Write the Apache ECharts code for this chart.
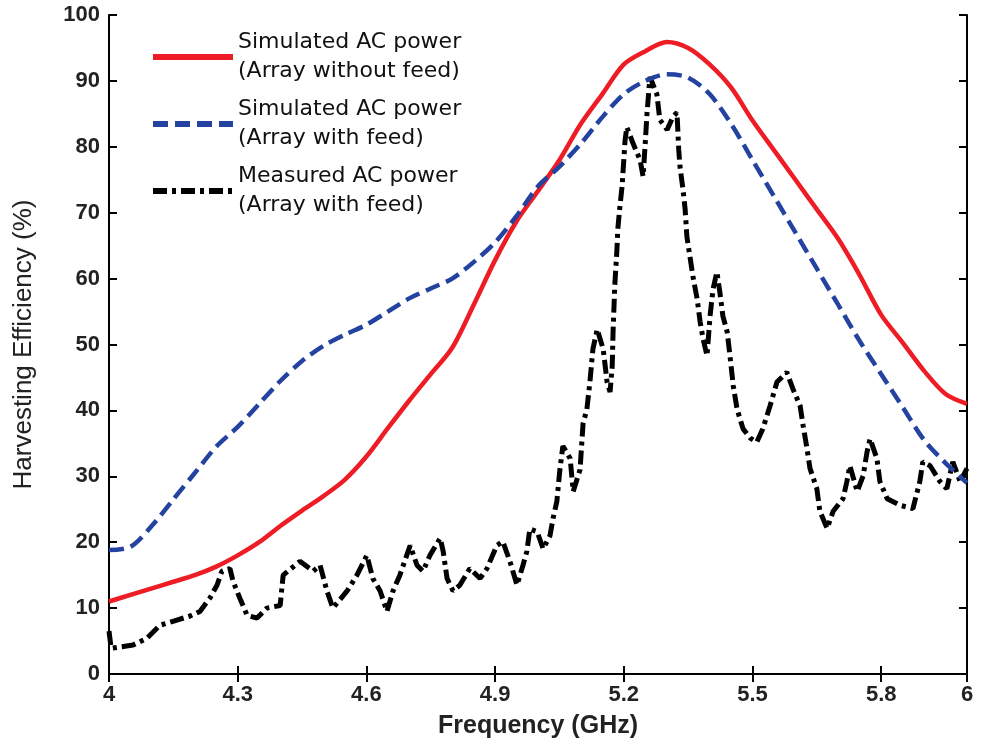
<!DOCTYPE html>
<html>
<head>
<meta charset="utf-8">
<script src="https://cdn.jsdelivr.net/npm/echarts@6/dist/echarts.min.js"></script>
<style>
html,body{margin:0;padding:0;background:#fff;}
#chart{width:984px;height:744px;}
</style>
</head>
<body>
<div id="chart"></div>
<script>
const simFreq = [4.00,4.05,4.10,4.15,4.20,4.25,4.30,4.35,4.40,4.45,4.50,4.55,4.60,4.65,4.70,4.75,4.80,4.85,4.90,4.95,
  5.00,5.05,5.10,5.15,5.20,5.25,5.30,5.35,5.40,5.45,5.50,5.55,5.60,5.65,5.70,5.75,5.80,5.85,5.90,5.95,6.00];
const simNoFeed = [11.0,12.0,13.0,14.0,15.0,16.3,18.0,20.0,22.5,24.8,27.0,29.5,33.0,37.3,41.5,45.5,49.5,56.0,62.8,68.7,
  73.3,78.0,83.5,88.0,92.5,94.5,95.9,95.0,92.5,89.0,84.0,79.5,75.0,70.5,66.0,60.5,54.5,50.3,46.0,42.5,41.0];
const simWithFeed = [18.8,19.3,22.5,26.5,30.5,34.5,37.5,41.0,44.5,47.5,49.8,51.5,53.0,55.0,57.0,58.5,60.0,62.5,65.5,69.5,
  74.0,77.0,80.5,84.5,88.0,90.0,91.0,90.5,88.0,83.5,78.0,72.5,67.0,61.5,56.0,50.5,45.5,40.5,35.5,32.0,29.0];
const measFreq = [4.000,4.005,4.056,4.088,4.119,4.149,4.189,4.212,4.235,4.252,4.263,4.282,4.289,4.305,4.322,4.345,4.368,4.399,4.406,4.445,
  4.476,4.492,4.508,4.522,4.555,4.578,4.601,4.615,4.632,4.648,4.662,4.678,4.702,4.718,4.732,4.748,4.772,4.779,4.788,4.802,
  4.818,4.841,4.865,4.881,4.904,4.918,4.935,4.951,4.965,4.974,4.981,4.998,5.012,5.028,5.035,5.044,5.051,5.058,5.075,5.082,
  5.098,5.105,5.114,5.121,5.128,5.138,5.152,5.161,5.168,5.173,5.175,5.179,5.184,5.186,5.191,5.196,5.200,5.203,5.207,5.221,
  5.238,5.245,5.250,5.254,5.261,5.277,5.284,5.301,5.315,5.324,5.328,5.331,5.338,5.343,5.347,5.354,5.361,5.371,5.378,5.385,
  5.394,5.401,5.408,5.417,5.424,5.431,5.441,5.448,5.455,5.464,5.478,5.495,5.510,5.524,5.541,5.557,5.580,5.594,5.611,5.618,
  5.627,5.634,5.650,5.657,5.674,5.688,5.711,5.720,5.727,5.744,5.758,5.767,5.774,5.790,5.797,5.814,5.844,5.874,5.890,5.897,
  5.914,5.937,5.953,5.967,5.984,6.000];
const measEff = [6.5,3.9,4.4,5.4,7.4,8.0,8.8,9.5,11.5,13.5,15.6,16.0,14.1,11.5,8.9,8.5,10.0,10.4,15.0,17.1,
  15.6,16.5,12.6,10.0,12.6,15.0,18.0,14.5,12.6,9.5,12.6,15.0,19.5,16.5,15.6,18.0,20.6,18.6,14.5,12.6,
  13.5,16.0,14.5,16.0,19.5,20.1,17.0,13.5,16.5,18.6,22.0,21.6,19.0,21.0,23.6,26.2,31.0,34.6,32.7,27.7,
  31.0,38.0,40.2,44.3,49.3,52.3,49.3,44.3,42.8,46.7,52.0,59.0,64.4,67.5,71.0,74.0,78.0,81.0,83.0,80.6,
  78.0,75.5,80.6,85.0,90.6,88.0,84.1,82.6,84.6,85.2,79.6,77.0,73.5,70.5,66.4,63.4,60.4,56.9,53.4,50.8,
  48.3,54.3,58.4,61.0,57.9,54.3,51.9,48.0,43.8,40.2,37.2,35.8,35.2,37.2,40.7,44.3,45.8,43.3,40.7,37.7,
  34.2,31.2,28.1,24.7,22.1,24.7,26.6,29.2,31.6,27.7,30.1,33.7,35.7,32.7,29.2,26.6,25.6,25.1,29.2,32.2,
  31.6,29.2,28.1,32.2,29.2,31.2];
const seriesNames = ['Simulated AC power\n(Array without feed)', 'Simulated AC power\n(Array with feed)', 'Measured AC power\n(Array with feed)'];
const xTitle = 'Frequency (GHz)';
const yTitle = 'Harvesting Efficiency (%)';

const zip = (a, b) => a.map((v, i) => [v, b[i]]);
const chart = echarts.init(document.getElementById('chart'));
const tickFont = {fontFamily: 'Liberation Sans, Arial', fontWeight: 'bold', fontSize: 22, color: '#222'};
const axisLine = {show: true, lineStyle: {color: '#000', width: 2}};
const axisTick = {show: true, inside: true, length: 8, lineStyle: {color: '#000', width: 2}};
chart.setOption({
  animation: false,
  backgroundColor: '#fff',
  grid: {left: 109, right: 17, top: 15, bottom: 68},
  legend: {
    orient: 'vertical', left: 150, top: 28, padding: 0, itemGap: 9,
    itemWidth: 80, itemHeight: 14,
    itemStyle: {opacity: 0},
    lineStyle: {width: 6},
    textStyle: {fontFamily: 'DejaVu Sans', fontSize: 22, color: '#111', lineHeight: 29},
    data: seriesNames
  },
  xAxis: [{
    type: 'value', min: 4, max: 6, interval: 0.3, position: 'bottom',
    axisLine: axisLine, axisTick: axisTick, splitLine: {show: false},
    axisLabel: Object.assign({margin: 10}, tickFont),
    name: xTitle, nameLocation: 'middle', nameGap: 40,
    nameTextStyle: {fontFamily: 'Liberation Sans, Arial', fontWeight: 'bold', fontSize: 25, color: '#222'}
  }, {
    type: 'value', min: 4, max: 6, interval: 0.3, position: 'top',
    axisLine: axisLine, axisTick: axisTick, splitLine: {show: false}, axisLabel: {show: false}
  }],
  yAxis: [{
    type: 'value', min: 0, max: 100, interval: 10, position: 'left',
    axisLine: axisLine, axisTick: axisTick, splitLine: {show: false},
    axisLabel: Object.assign({margin: 9}, tickFont),
    name: yTitle, nameLocation: 'middle', nameGap: 72, nameRotate: 90,
    nameTextStyle: {fontFamily: 'Liberation Sans, Arial', fontSize: 26, color: '#222'}
  }, {
    type: 'value', min: 0, max: 100, interval: 10, position: 'right',
    axisLine: axisLine, axisTick: axisTick, splitLine: {show: false}, axisLabel: {show: false}
  }],
  series: [{
    name: seriesNames[0], type: 'line', symbol: 'none', smooth: 0.3,
    data: zip(simFreq, simNoFeed),
    lineStyle: {color: '#ee1c25', width: 4.5}, itemStyle: {color: '#ee1c25'}, z: 3
  }, {
    name: seriesNames[1], type: 'line', symbol: 'none', smooth: 0.3,
    data: zip(simFreq, simWithFeed),
    lineStyle: {color: '#2442a0', width: 4.5, type: [15, 7]}, itemStyle: {color: '#2442a0'}, z: 4
  }, {
    name: seriesNames[2], type: 'line', symbol: 'none',
    data: zip(measFreq, measEff),
    lineStyle: {color: '#000', width: 5, type: [14, 5, 4, 5]}, itemStyle: {color: '#000'}, z: 2
  }]
});
</script>
</body>
</html>
